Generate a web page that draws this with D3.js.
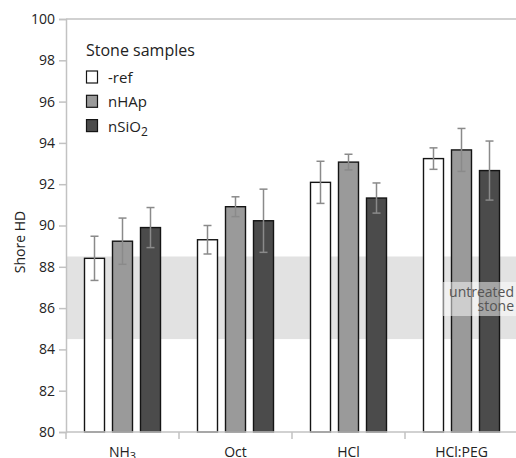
<!DOCTYPE html>
<html><head><meta charset="utf-8">
<script src="https://cdn.jsdelivr.net/npm/d3@7/dist/d3.min.js"></script>
<style>body{margin:0;background:#fff}svg{display:block;font-family:"Open Sans",sans-serif}</style>
</head><body><svg id="c" width="516" height="458"></svg>
<script>
const categories = ["NH3","Oct","HCl","HCl:PEG"];
const categoryLabels = [["NH","3"],["Oct",""],["HCl",""],["HCl:PEG",""]];
const series = ["-ref","nHAp","nSiO2"];
const seriesLabels = [["-ref",""],["nHAp",""],["nSiO","2"]];
const refValues   = [88.41, 89.31, 92.09, 93.24];
const refErr      = [1.07, 0.69, 1.02, 0.52];
const nHApValues  = [89.24, 90.91, 93.07, 93.66];
const nHApErr     = [1.12, 0.48, 0.38, 1.04];
const nSiO2Values = [89.90, 90.23, 91.33, 92.66];
const nSiO2Err    = [0.97, 1.53, 0.73, 1.43];
const yTicks = [80,82,84,86,88,90,92,94,96,98,100];
const untreatedRange = [84.5, 88.5];
const untreatedLabel = ["untreated","stone"];

const values = [refValues, nHApValues, nSiO2Values];
const errs = [refErr, nHApErr, nSiO2Err];
const colors = ["#ffffff","#9a9a9a","#4b4b4b"];

const svg = d3.select("#c");
const x0 = d3.scaleBand().domain(categories).range([66, 518]);
const bw = x0.bandwidth();
const x1 = d3.scaleBand().domain(series).range([bw/2-42, bw/2+42]).paddingInner(8/28).paddingOuter(4/28);
const y = d3.scaleLinear().domain([80,100]).range([432,19]);
const axisColor = "#c2c2c2";

// untreated band
svg.append("rect").attr("x",66).attr("width",516-66)
  .attr("y",y(untreatedRange[1])).attr("height",y(untreatedRange[0])-y(untreatedRange[1]))
  .attr("fill","#e2e2e2");

// top border
svg.append("line").attr("x1",66).attr("x2",516).attr("y1",y(100)).attr("y2",y(100))
  .attr("stroke",axisColor).attr("stroke-width",1.5);

// bars
const data = [];
categories.forEach((c,i)=>series.forEach((s,j)=>data.push({c,s,j,v:values[j][i],e:errs[j][i]})));
const g = svg.append("g");
g.selectAll("rect.bar").data(data).join("rect").attr("class","bar")
  .attr("x",d=>x0(d.c)+x1(d.s)).attr("width",x1.bandwidth())
  .attr("y",d=>y(d.v)).attr("height",d=>y(80)-y(d.v))
  .attr("fill",d=>colors[d.j]).attr("stroke","#141414").attr("stroke-width",1.4);

// error bars
const eg = svg.append("g").attr("stroke","#8a8a8a").attr("stroke-width",1.5);
data.forEach(d=>{
  const cx = x0(d.c)+x1(d.s)+x1.bandwidth()/2;
  eg.append("line").attr("x1",cx).attr("x2",cx).attr("y1",y(d.v+d.e)).attr("y2",y(d.v-d.e));
  eg.append("line").attr("x1",cx-4).attr("x2",cx+4).attr("y1",y(d.v+d.e)).attr("y2",y(d.v+d.e));
  eg.append("line").attr("x1",cx-4).attr("x2",cx+4).attr("y1",y(d.v-d.e)).attr("y2",y(d.v-d.e));
});

// y axis
const ya = svg.append("g").attr("transform","translate(66,0)")
  .call(d3.axisLeft(y).tickValues(yTicks).tickSize(7).tickPadding(4).tickFormat(d3.format("d")));
ya.select(".domain").attr("stroke",axisColor).attr("stroke-width",1.5);
ya.selectAll(".tick line").attr("stroke",axisColor).attr("stroke-width",1.5);
ya.selectAll(".tick text").attr("fill","#222").style("font-size","14px").style("font-family","Open Sans");

// x axis line + boundary ticks
svg.append("line").attr("x1",66).attr("x2",516).attr("y1",y(80)).attr("y2",y(80))
  .attr("stroke",axisColor).attr("stroke-width",1.5);
categories.forEach(c=>{
  svg.append("line").attr("x1",x0(c)).attr("x2",x0(c)).attr("y1",y(80)).attr("y2",y(80)+7)
    .attr("stroke",axisColor).attr("stroke-width",1.5);
});
const xa = svg.append("g");
categories.forEach((c,i)=>{
  const t = xa.append("text").attr("x",x0(c)+bw/2).attr("y",457).attr("text-anchor","middle")
    .attr("fill","#222").style("font-size","14px");
  t.append("tspan").text(categoryLabels[i][0]);
  if(categoryLabels[i][1]) t.append("tspan").attr("dy",3).style("font-size","11px").text(categoryLabels[i][1]);
});

// untreated label
svg.append("rect").attr("x",443).attr("y",282).attr("width",73).attr("height",34)
  .attr("fill","#fff").attr("fill-opacity",0.5);
untreatedLabel.forEach((t,i)=>{
  svg.append("text").attr("x",514).attr("y",296.5+i*14).attr("text-anchor","end")
    .attr("fill","#555").style("font-size","14px").text(t);
});

// y label
svg.append("text").attr("transform","translate(25,242) rotate(-90)").attr("text-anchor","middle")
  .attr("fill","#222").style("font-size","14px").text("Shore HD");

// legend
svg.append("text").attr("x",86).attr("y",56).attr("fill","#222").style("font-size","16px").text("Stone samples");
series.forEach((s,j)=>{
  const yy = 71 + j*24.3;
  svg.append("rect").attr("x",86.5).attr("y",yy).attr("width",11).attr("height",12)
    .attr("fill",colors[j]).attr("stroke","#141414").attr("stroke-width",1.2);
  const t = svg.append("text").attr("x",108).attr("y",yy+12).attr("fill","#222").style("font-size","15px");
  t.append("tspan").text(seriesLabels[j][0]);
  if(seriesLabels[j][1]) t.append("tspan").attr("dy",4).style("font-size","12px").text(seriesLabels[j][1]);
});
</script></body></html>
